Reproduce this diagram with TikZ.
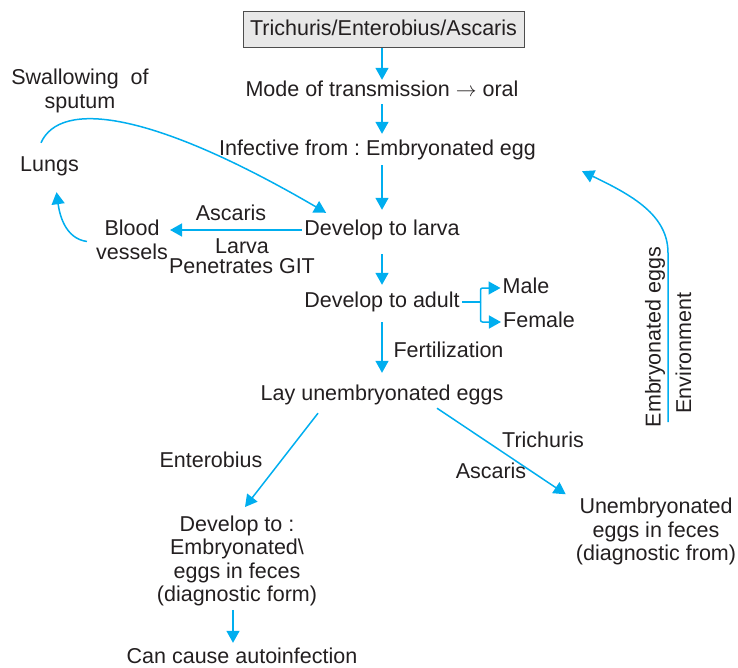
\documentclass[tikz,border=0pt]{standalone}
\usepackage{fontspec}
\setmainfont{Liberation Sans}
\usetikzlibrary{arrows.meta,calc}
\definecolor{cy}{HTML}{00AEEF}
\definecolor{ink}{HTML}{231F20}
\definecolor{boxfill}{HTML}{E8E8E8}
\definecolor{boxline}{HTML}{4D4D4D}
\newcommand\lnstrut{\rule[-4pt]{0pt}{19pt}}
\frenchspacing
\begin{document}
\begin{tikzpicture}[x=1pt,y=-1pt,
  every node/.style={font=\fontsize{21.5}{23.5}\selectfont, text=ink, inner xsep=2pt, inner ysep=1.5pt},
  one/.style={text height=15pt, text depth=4pt},
  multi/.style={align=center},
  con/.style={draw=cy, line width=1.5pt},
  arr/.style={con, -{Triangle[length=12pt,width=13pt]}},
  titlebox/.style={one, draw=boxline, fill=boxfill, line width=1pt, minimum width=281pt, minimum height=36pt}]
\path[use as bounding box] (0,0) rectangle (738,668);

% nodes
\node[titlebox] (top) at (383.5,30) {Trichuris/Enterobius/Ascaris};
\node[one] (mode) at (382,91) {Mode of transmission $\rightarrow$ oral};
\node[one] (inf) at (377.5,150) {Infective from : Embryonated egg};
\node[one] (larva) at (382,230) {Develop to larva};
\node[one] (adult) at (382,302) {Develop to adult};
\node[one] (male) at (526,288) {Male};
\node[one] (female) at (539,322) {Female};
\node[one] (fert) at (448.5,352) {Fertilization};
\node[one] (lay) at (382,395) {Lay unembryonated eggs};
\node[one] (entero) at (211,462) {Enterobius};
\node[one] (trich) at (543,442) {Trichuris};
\node[one] (asc2) at (491,473) {Ascaris};
\node[multi] (dev) at (237,561) {\lnstrut Develop to :\\\lnstrut Embryonated\textbackslash\\\lnstrut eggs in feces\\\lnstrut (diagnostic form)};
\node[one] (can) at (242,658) {Can cause autoinfection};
\node[multi] (unemb) at (656,531.5) {\lnstrut Unembryonated\\\lnstrut eggs in feces\\\lnstrut (diagnostic from)};
\node[multi] (blood) at (132,241.5) {\lnstrut Blood\\\lnstrut vessels};
\node[one] (lungs) at (49.5,166) {Lungs};
\node[multi] (swal) at (80,91) {\lnstrut Swallowing~ of\\\lnstrut sputum};
\node[one] (asc1) at (231,215) {Ascaris};
\node[multi] (pen) at (242,258) {\lnstrut Larva\\[-3.5pt]\lnstrut Penetrates GIT};
\node[one, rotate=90] (embeggs) at (655,337) {Embryonated eggs};
\node[one, rotate=90] (envir) at (685.5,353) {Environment};

% main column
\draw[arr] (mode.north |- top.south) -- (mode.north);
\draw[arr, shorten <=2pt, shorten >=5pt] (mode.south) -- (mode.south |- inf.north);
\draw[arr, shorten <=4pt, shorten >=9pt] (larva.north |- inf.south) -- (larva.north);
\draw[arr, shorten <=13pt, shorten >=6pt] (larva.south) -- (adult.north);
\draw[arr, shorten <=9pt, shorten >=11pt] (adult.south) -- (lay.north);

% male / female bracket
\coordinate (bm) at ([xshift=-20pt]male.west);
\coordinate (bf) at (bm |- female.west);
\draw[con] (adult.east) -- (adult.east -| bm);
\draw[arr, rounded corners=2pt] (bm |- adult.east) -- (bm) -- (male.west);
\draw[arr, rounded corners=2pt] (bm |- adult.east) -- (bf) -- (female.west);

% larva to blood vessels to lungs
\draw[arr] (larva.west) -- (larva.west -| blood.east);
\draw[arr] ([xshift=-7pt]blood.west) .. controls +(-22,-3) and +(3,22) .. ([xshift=7pt,yshift=-15pt]lungs.south);
\draw[arr] ([xshift=-8.5pt,yshift=12pt]lungs.north) .. controls (60,100) and (150,110) .. ([xshift=24pt,yshift=6pt]larva.north west);

% eggs
\draw[arr] ([xshift=-64pt,yshift=-7pt]lay.south) -- ([xshift=8pt,yshift=7pt]dev.north);
\draw[arr] ([xshift=55pt,yshift=-2pt]lay.south) -- ([xshift=-8pt,yshift=2pt]unemb.north west);
\coordinate (devb) at ([xshift=-4pt]dev.south);
\draw[arr, shorten <=2pt, shorten >=4pt] (devb) -- (devb |- can.north);

% environment loop
\coordinate (envbot) at (668,422);
\draw[arr] (envbot) -- ++(0,-169) .. controls +(0,-38) and +(50,24) .. ([xshift=44pt,yshift=-10pt]inf.south east);
\end{tikzpicture}
\end{document}
